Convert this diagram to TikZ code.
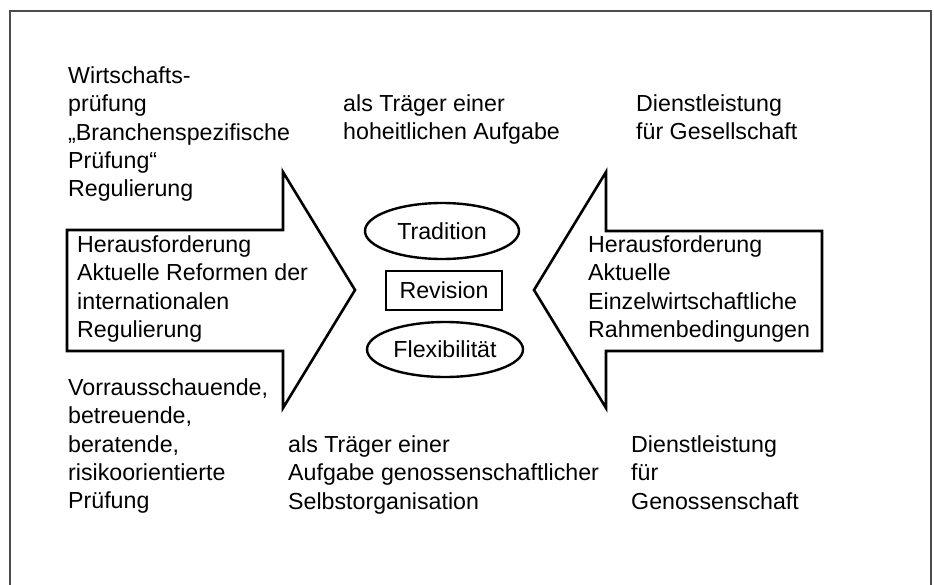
\documentclass[tikz,border=0pt]{standalone}
\usepackage{fontspec}
\setmainfont{Liberation Sans}
\usetikzlibrary{shapes.geometric}

% first-line strut: 20pt above the baseline, 8.4pt below
\newcommand{\lnstrut}{\rule[-8.4pt]{0pt}{28.4pt}}

\begin{document}
\begin{tikzpicture}[x=1pt,y=-1pt,
    txt/.style={anchor=north west, inner sep=0pt, align=left,
      font=\fontsize{23.2}{28.4}\selectfont},
    bigarrow/.style={draw, line width=2.6pt, miter limit=10, fill=white},
    oval/.style={ellipse, draw, line width=2.4pt, inner sep=0pt,
      font=\fontsize{23.2}{27}\selectfont},
    kernbox/.style={rectangle, draw, line width=2.4pt, inner sep=0pt,
      font=\fontsize{23.2}{27}\selectfont},
    frame/.style={draw=black!70, line width=1.4pt}]

  \useasboundingbox (0,0) rectangle (934,584);

  % outer frame, open at the lower edge
  \draw[frame] (10,590) -- (10,11) -- (931,11) -- (931,590);

  % block arrows pointing to the centre
  \draw[bigarrow] (67,230) -- (283,230) -- (283,172) -- (355,290)
    -- (283,408) -- (283,351) -- (67,351) -- cycle;
  \draw[bigarrow] (822,231) -- (606,231) -- (606,172) -- (534,290)
    -- (606,408) -- (606,351) -- (822,351) -- cycle;

  % centre: tradition, revision, flexibility
  \node[oval, minimum width=154pt, minimum height=56pt] (tradition)
    at (442,231) {Tradition};
  \node[kernbox, minimum width=116pt, minimum height=39pt] (revision)
    at (444,290.5) {Revision};
  \node[oval, minimum width=156pt, minimum height=55pt] (flex)
    at (445,349.5) {Flexibilität};

  % texts inside the arrows
  \node[txt] (chLeft) at (77,232)
    {\lnstrut Herausforderung\\Aktuelle Reformen der\\internationalen\\Regulierung};
  \node[txt] (chRight) at (588,232)
    {\lnstrut Herausforderung\\Aktuelle\\Einzelwirtschaftliche\\Rahmenbedingungen};

  % upper row
  \node[txt] (audit) at (68,63)
    {\lnstrut Wirtschafts-\\prüfung\\„Branchenspezifische\\Prüfung“\\Regulierung};
  \node[txt] (sovereign) at (343,91)
    {\lnstrut als Träger einer\\hoheitlichen Aufgabe};
  \node[txt] (society) at (636,91)
    {\lnstrut Dienstleistung\\für Gesellschaft};

  % lower row
  \node[txt] (forward) at (68,375)
    {\lnstrut Vorrausschauende,\\betreuende,\\beratende,\\risikoorientierte\\Prüfung};
  \node[txt] (selforg) at (288,432)
    {\lnstrut als Träger einer\\Aufgabe genossenschaftlicher\\Selbstorganisation};
  \node[txt] (coop) at (631,432)
    {\lnstrut Dienstleistung\\für\\Genossenschaft};
\end{tikzpicture}
\end{document}
